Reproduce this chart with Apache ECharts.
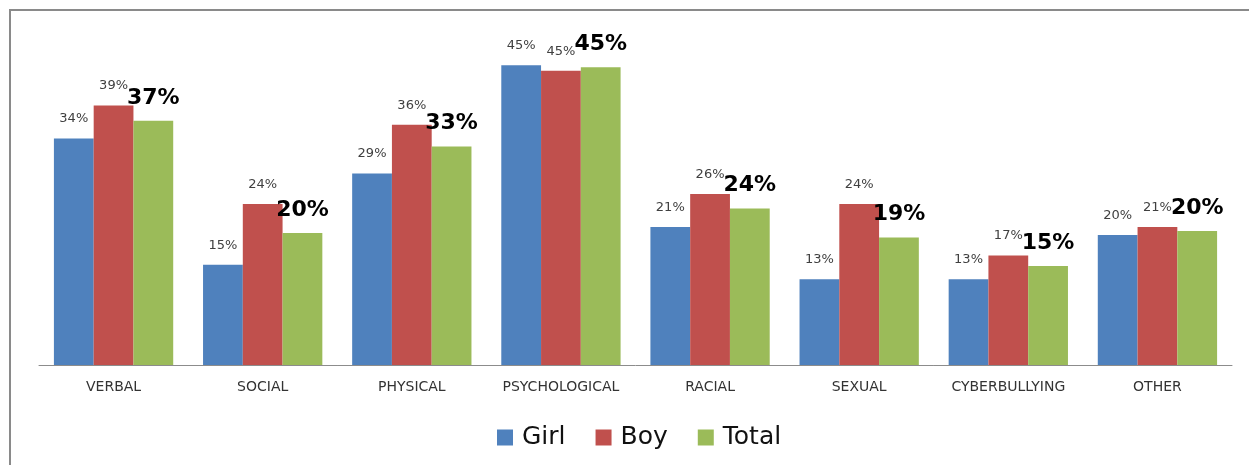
<!DOCTYPE html>
<html>
<head>
<meta charset="utf-8">
<script src="https://cdn.jsdelivr.net/npm/echarts@6/dist/echarts.min.js"></script>
<style>
  html, body { margin: 0; padding: 0; background: #fff; overflow: hidden; width: 1249px; height: 465px; }
  #main { position: absolute; left: 0; top: 0; width: 1249px; height: 465px; }
  #topline { position: absolute; left: 9px; top: 9px; width: 1240px; height: 2px; background: #8a8a8a; }
  #leftline { position: absolute; left: 9px; top: 9px; width: 2px; height: 456px; background: #8a8a8a; }
</style>
</head>
<body>
<div id="main"></div>
<div id="topline"></div>
<div id="leftline"></div>
<script>
// 类别与数值（从图上估读，标签取整显示）
var categories = ['VERBAL', 'SOCIAL', 'PHYSICAL', 'PSYCHOLOGICAL', 'RACIAL', 'SEXUAL', 'CYBERBULLYING', 'OTHER'];
var girl  = [34.3, 15.2, 29.0, 45.4, 20.9, 13.0, 13.0, 19.7];
var boy   = [39.3, 24.4, 36.4, 44.6, 25.9, 24.4, 16.6, 20.9];
var total = [37.0, 20.0, 33.1, 45.1, 23.7, 19.3, 15.0, 20.3];

var font = 'DejaVu Sans';
var pct = function (p) { return Math.round(p.value) + '%'; };

var myChart = echarts.init(document.getElementById('main'));
myChart.setOption({
  animation: false,
  color: ['#4F81BD', '#C0504D', '#9BBB59'],
  grid: { left: 39, right: 17, top: 35, bottom: 100 },
  legend: {
    data: ['Girl', 'Boy', 'Total'],
    top: 420,
    left: 492,
    itemWidth: 16,
    itemHeight: 16,
    itemGap: 30,
    icon: 'rect',
    textStyle: { fontFamily: font, fontSize: 25, color: '#111', padding: [0, 0, 0, 4] }
  },
  xAxis: {
    type: 'category',
    data: categories,
    axisLine: { lineStyle: { color: '#8c8c8c', width: 1 } },
    axisTick: { show: false },
    axisLabel: { fontFamily: font, fontSize: 14, color: '#333', margin: 15, interval: 0 }
  },
  yAxis: {
    type: 'value',
    min: 0,
    max: 50,
    show: false,
    splitLine: { show: false }
  },
  series: [
    {
      name: 'Girl', type: 'bar', data: girl, barGap: 0, barCategoryGap: '20%',
      label: { show: true, position: 'top', distance: 13, formatter: pct,
               fontFamily: font, fontSize: 13, color: '#404040' }
    },
    {
      name: 'Boy', type: 'bar', data: boy, barGap: 0, barCategoryGap: '20%',
      label: { show: true, position: 'top', distance: 13, formatter: pct,
               fontFamily: font, fontSize: 13, color: '#404040' }
    },
    {
      name: 'Total', type: 'bar', data: total, barGap: 0, barCategoryGap: '20%',
      label: { show: true, position: 'top', distance: 12, formatter: pct,
               fontFamily: font, fontSize: 22, fontWeight: 'bold', color: '#000' }
    }
  ]
});
</script>
</body>
</html>
